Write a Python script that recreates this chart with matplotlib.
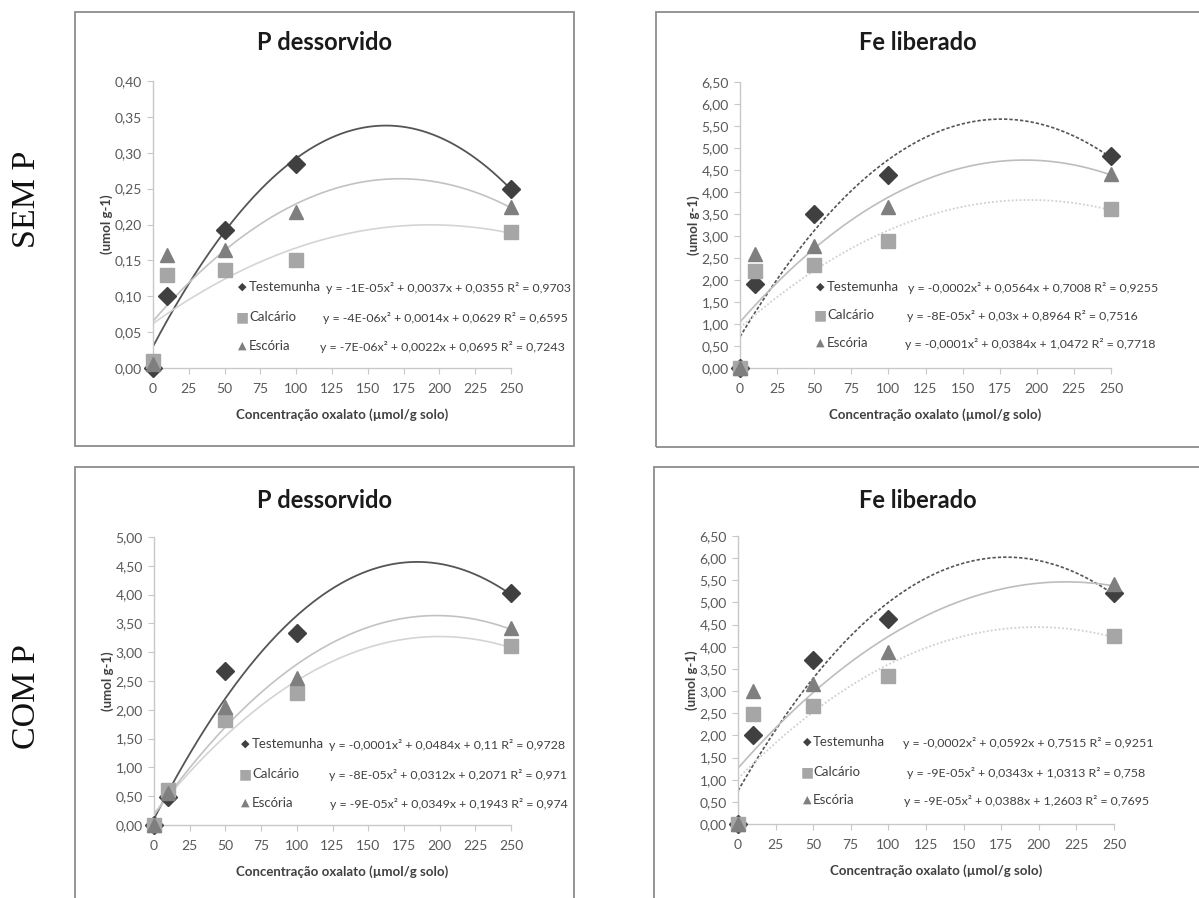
import numpy as np
import matplotlib
matplotlib.use("Agg")
import matplotlib.pyplot as plt
from matplotlib.patches import Rectangle
from matplotlib.ticker import FuncFormatter, MultipleLocator

plt.rcParams["font.family"] = ["Lato", "DejaVu Sans"]

# ── data ─────────────────────────────────────────────────
conc = [0, 10, 50, 100, 250]
series_names = ["Testemunha", "Calcário", "Escória"]

semp_p_test = [0.00, 0.10, 0.193, 0.285, 0.250]
semp_p_calc = [0.010, 0.130, 0.137, 0.150, 0.190]
semp_p_esc = [0.005, 0.157, 0.165, 0.217, 0.225]

semp_fe_test = [0.00, 1.90, 3.50, 4.38, 4.82]
semp_fe_calc = [0.00, 2.20, 2.35, 2.88, 3.62]
semp_fe_esc = [0.00, 2.60, 2.78, 3.65, 4.42]

comp_p_test = [0.00, 0.48, 2.68, 3.33, 4.03]
comp_p_calc = [0.00, 0.60, 1.83, 2.30, 3.10]
comp_p_esc = [0.00, 0.55, 2.05, 2.55, 3.42]

comp_fe_test = [0.00, 2.00, 3.70, 4.62, 5.22]
comp_fe_calc = [0.00, 2.48, 2.67, 3.33, 4.25]
comp_fe_esc = [0.00, 3.00, 3.17, 3.88, 5.42]

eq_semp_p = ["y = -1E-05x² + 0,0037x + 0,0355 R² = 0,9703",
             "y = -4E-06x² + 0,0014x + 0,0629 R² = 0,6595",
             "y = -7E-06x² + 0,0022x + 0,0695 R² = 0,7243"]
eq_semp_fe = ["y = -0,0002x² + 0,0564x + 0,7008 R² = 0,9255",
              "y = -8E-05x² + 0,03x + 0,8964 R² = 0,7516",
              "y = -0,0001x² + 0,0384x + 1,0472 R² = 0,7718"]
eq_comp_p = ["y = -0,0001x² + 0,0484x + 0,11 R² = 0,9728",
             "y = -8E-05x² + 0,0312x + 0,2071 R² = 0,971",
             "y = -9E-05x² + 0,0349x + 0,1943 R² = 0,974"]
eq_comp_fe = ["y = -0,0002x² + 0,0592x + 0,7515 R² = 0,9251",
              "y = -9E-05x² + 0,0343x + 1,0313 R² = 0,758",
              "y = -9E-05x² + 0,0388x + 1,2603 R² = 0,7695"]

# ── layout helpers ───────────────────────────────────────
W, H = 1199, 898
fig = plt.figure(figsize=(W / 100, H / 100), dpi=100)


def fx(x):
    return x / W


def fy(y):
    return 1 - y / H


def add_axes_px(left, right, bottom, top):
    return fig.add_axes([fx(left), fy(bottom), (right - left) / W, (bottom - top) / H])


MARKERS = ["D", "s", "^"]
MCOLORS = ["#404040", "#a6a6a6", "#7f7f7f"]
MSIZES = [9, 10, 10.5]
LBL_COLOR = "#404040"


def comma(v, _):
    return f"{v:.2f}".replace(".", ",")


def panel(box, ax_px, title, ymax, ystep, data, line_styles, eqs, leg):
    # outer border (left, right, top, bottom in pixels)
    bx0, bx1, by0, by1 = box
    fig.patches.append(Rectangle((fx(bx0), fy(by1)), (bx1 - bx0) / W, (by1 - by0) / H,
                                 transform=fig.transFigure, fill=False,
                                 edgecolor="#8c8c8c", lw=1.3, clip_on=False))
    ax = add_axes_px(*ax_px)
    ax.set_xlim(0, 250)
    ax.set_ylim(0, ymax)
    for s in ("top", "right"):
        ax.spines[s].set_visible(False)
    for s in ("left", "bottom"):
        ax.spines[s].set_color("#c8c8c8")
        ax.spines[s].set_linewidth(1.0)
    ax.xaxis.set_major_locator(MultipleLocator(25))
    ax.yaxis.set_major_locator(MultipleLocator(ystep))
    ax.yaxis.set_major_formatter(FuncFormatter(comma))
    ax.tick_params(axis="both", colors="#c8c8c8", labelcolor="#595959",
                   labelsize=10, length=4, direction="out", pad=4)
    ax.tick_params(axis="x", pad=7)
    ax.patch.set_alpha(0)

    xs = np.linspace(0, 250, 200)
    for i, ys in enumerate(data):
        coef = np.polyfit(conc, ys, 2)
        color, ls, lw = line_styles[i]
        ax.plot(xs, np.polyval(coef, xs), color=color, ls=ls, lw=lw, zorder=2)
    for i, ys in enumerate(data):
        ax.plot(conc, ys, ls="none", marker=MARKERS[i], ms=MSIZES[i],
                color=MCOLORS[i], mec=MCOLORS[i], clip_on=False, zorder=3 + i)

    name, tx, ty = title
    fig.text(fx(tx), fy(ty), name, ha="center", va="center",
             fontsize=17, fontweight="bold", color="#1a1a1a")
    cx = (ax_px[0] + ax_px[1]) / 2
    fig.text(fx(cx + 10), fy(ax_px[2] + 47), "Concentração oxalato (µmol/g solo)",
             ha="center", va="center", fontsize=9.5, fontweight="bold", color="#404040")
    fig.text(fx(ax_px[0] - 46), fy((ax_px[2] + ax_px[3]) / 2), "(umol g-1)", rotation=90,
             ha="center", va="center", fontsize=9.5, fontweight="bold", color="#404040")

    mx, lx, eqxs, rows = leg
    for i in range(3):
        fig.text(fx(mx), fy(rows[i]), "◆■▲"[i], ha="center", va="center",
                 fontsize=8 if i != 1 else 10, color=MCOLORS[i], family=["DejaVu Sans"])
        fig.text(fx(lx), fy(rows[i]), series_names[i], ha="left", va="center",
                 fontsize=9.5, color=LBL_COLOR)
        fig.text(fx(eqxs[i]), fy(rows[i] + 1), eqs[i], ha="left", va="center",
                 fontsize=8.9, color=LBL_COLOR)
    return ax


p_styles = [("#555555", "-", 1.3), ("#d4d4d4", "-", 1.2), ("#c2c2c2", "-", 1.2)]
fe_styles = [("#555555", (0, (2, 1.2)), 1.2), ("#d0d0d0", (0, (1, 1.2)), 1.3),
             ("#bdbdbd", "-", 1.2)]

panel((75, 574, 12, 446), (153, 511, 368, 81), ("P dessorvido", 325, 43), 0.40, 0.05,
      [semp_p_test, semp_p_calc, semp_p_esc], p_styles, eq_semp_p,
      (242, 249, [326, 323, 320], [287, 317, 346]))

panel((656, 1210, 12, 447), (740, 1111, 368, 82), ("Fe liberado", 918, 43), 6.5, 0.5,
      [semp_fe_test, semp_fe_calc, semp_fe_esc], fe_styles, eq_semp_fe,
      (820, 827, [908, 907, 905], [287, 315, 343]))

panel((75, 574, 467, 910), (154, 511, 825, 537), ("P dessorvido", 325, 500), 5.0, 0.5,
      [comp_p_test, comp_p_calc, comp_p_esc], p_styles, eq_comp_p,
      (245, 252, [329, 329, 330], [744, 774, 803]))

panel((654, 1210, 467, 910), (738, 1114, 824, 536), ("Fe liberado", 918, 500), 6.5, 0.5,
      [comp_fe_test, comp_fe_calc, comp_fe_esc], fe_styles, eq_comp_fe,
      (807, 813, [903, 907, 904], [742, 772, 800]))

# row labels
fig.text(fx(27), fy(199), "SEM P", rotation=90, ha="center", va="center",
         fontsize=24.5, family=["Liberation Serif"], color="#111111")
fig.text(fx(27), fy(697), "COM P", rotation=90, ha="center", va="center",
         fontsize=24.5, family=["Liberation Serif"], color="#111111")

fig.savefig("out.png", dpi=100)
